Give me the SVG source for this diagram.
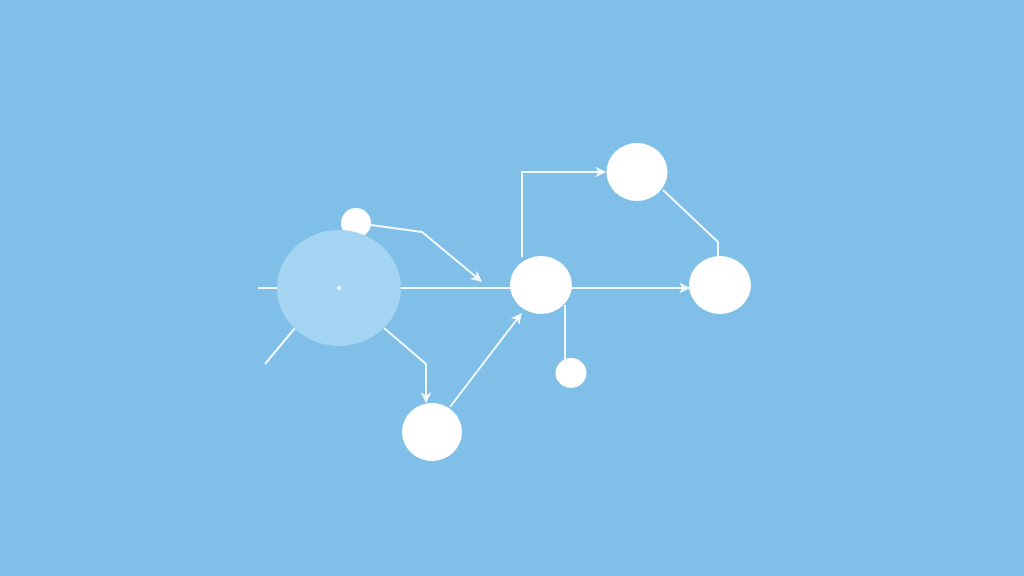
<svg xmlns="http://www.w3.org/2000/svg" width="1024" height="576" viewBox="0 0 1024 576">
<defs>
<style>
.c{fill:none;stroke:#f2f9fe;stroke-width:2;stroke-linejoin:miter}
.n{fill:#ffffff}
</style>
<marker id="a" viewBox="0 0 10 10" refX="9" refY="5" markerWidth="6" markerHeight="6" orient="auto" markerUnits="userSpaceOnUse">
<path d="M0,0 L10,5 L0,10 L3,5 Z" fill="#f2f9fe"/>
</marker>
<marker id="b" viewBox="0 0 10 10" refX="9" refY="5" markerWidth="11" markerHeight="11" orient="auto" markerUnits="userSpaceOnUse">
<path d="M0,0 L10,5 L0,10 L3,5 Z" fill="#f2f9fe"/>
</marker>
</defs>
<rect width="1024" height="576" fill="#80bfe8"/>
<g id="connectors">
<polyline class="c" points="371,225 422,232 481,281" marker-end="url(#b)"/>
<line class="c" x1="258" y1="288" x2="280" y2="288"/>
<line class="c" x1="400" y1="288" x2="511" y2="288"/>
<line class="c" x1="295" y1="328" x2="265" y2="364"/>
<polyline class="c" points="384,328 426,364 426,402" marker-end="url(#b)"/>
<line class="c" x1="450" y1="407" x2="521" y2="314" marker-end="url(#b)"/>
<line class="c" x1="565" y1="305" x2="565" y2="359"/>
<polyline class="c" points="522,257 522,172 605,172" marker-end="url(#b)"/>
<polyline class="c" points="663,190 718,242 718,257"/>
<line class="c" x1="571" y1="288" x2="689" y2="288" marker-end="url(#b)"/>
</g>
<g id="node-small-top"><circle class="n" cx="356" cy="223" r="15"/></g>
<g id="node-hub">
<ellipse cx="339" cy="288" rx="62" ry="58" fill="#a3d5f3"/>
<circle cx="339" cy="288" r="2" fill="#f2f9fe"/>
</g>
<g id="node-bottom"><ellipse class="n" cx="432" cy="432" rx="30" ry="29"/></g>
<g id="node-center"><ellipse class="n" cx="541" cy="285" rx="31" ry="29"/></g>
<g id="node-small-bottom"><ellipse class="n" cx="571" cy="373" rx="15.5" ry="15"/></g>
<g id="node-top"><ellipse class="n" cx="637" cy="172" rx="30.5" ry="29"/></g>
<g id="node-right"><ellipse class="n" cx="720" cy="285" rx="31" ry="29"/></g>
</svg>
